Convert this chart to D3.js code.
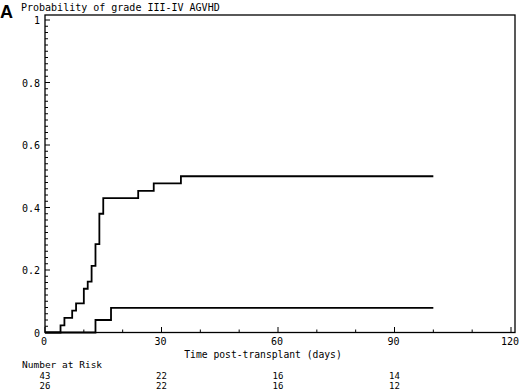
<!DOCTYPE html>
<html><head><meta charset="utf-8">
<script src="https://cdn.jsdelivr.net/npm/d3@7"></script>
<style>body{margin:0;background:#fff}svg{display:block}text{font-family:"DejaVu Sans Mono",monospace;fill:#000}</style>
</head><body><svg id="c" width="520" height="392"></svg>
<script>
const title = "Probability of grade III-IV AGVHD";
const xLabel = "Time post-transplant (days)";
const panel = "A";
const group1Days = [0, 4, 5, 7, 8, 10, 11, 12, 13, 14, 15, 24, 28, 35, 100];
const group1Prob = [0, 0.023, 0.047, 0.07, 0.093, 0.14, 0.163, 0.213, 0.283, 0.38, 0.43, 0.453, 0.477, 0.5, 0.5];
const group2Days = [0, 13, 17, 100];
const group2Prob = [0, 0.04, 0.079, 0.079];
const xTicks = [0, 30, 60, 90, 120];
const yTicks = [0, 0.2, 0.4, 0.6, 0.8, 1];
const yTickLabels = ["0", "0.2", "0.4", "0.6", "0.8", "1"];
const riskTimes = [0, 30, 60, 90];
const riskGroup1 = [43, 22, 16, 14];
const riskGroup2 = [26, 22, 16, 12];

const svg = d3.select("#c");
const x = d3.scaleLinear().domain([0, 120]).range([45, 511]);
const y = d3.scaleLinear().domain([0, 1]).range([332.5, 20]);

// frame
svg.append("rect").attr("x", 45).attr("y", 15).attr("width", 470).attr("height", 317.5)
  .attr("fill", "none").attr("stroke", "#000").attr("stroke-width", 1.3);

// minor ticks
const yMinor = d3.range(0, 1.0001, 0.02);
svg.append("g").selectAll("line").data(yMinor).join("line")
  .attr("x1", 45).attr("x2", d => Math.abs(d*5 - Math.round(d*5)) < 1e-6 ? 50 : 48)
  .attr("y1", d => y(d)).attr("y2", d => y(d)).attr("stroke", "#000").attr("stroke-width", 1);
const xMinor = d3.range(0, 121, 10);
svg.append("g").selectAll("line").data(xMinor).join("line")
  .attr("x1", d => x(d)).attr("x2", d => x(d))
  .attr("y1", 332.5).attr("y2", d => d % 30 === 0 ? 327 : 329.5).attr("stroke", "#000").attr("stroke-width", 1);

// tick labels
svg.append("g").selectAll("text").data(yTicks).join("text")
  .attr("x", 40).attr("y", d => y(d) + 4).attr("text-anchor", "end")
  .attr("font-size", 10).text((d, i) => yTickLabels[i]);
svg.append("g").selectAll("text").data(xTicks).join("text")
  .attr("x", d => x(d) - 1).attr("y", 345).attr("text-anchor", "middle")
  .attr("font-size", 10).text(d => d);

// curves
const line = d3.line().x(d => x(d[0])).y(d => y(d[1])).curve(d3.curveStepAfter);
[[group1Days, group1Prob], [group2Days, group2Prob]].forEach(([t, p]) => {
  svg.append("path").datum(t.map((d, i) => [d, p[i]])).attr("d", line)
    .attr("fill", "none").attr("stroke", "#000").attr("stroke-width", 1.8);
});

// titles
svg.append("text").attr("x", 0).attr("y", 18)
  .style("font-family", "Liberation Sans, Arial, sans-serif").attr("font-weight", "bold").attr("font-size", 18).text(panel);
svg.append("text").attr("x", 21).attr("y", 11).attr("font-size", 10).text(title);
svg.append("text").attr("x", 263).attr("y", 358).attr("text-anchor", "middle").attr("font-size", 9.7).text(xLabel);
svg.append("text").attr("x", 22).attr("y", 368).attr("font-size", 9.5).text("Number at Risk");

svg.append("g").selectAll("text").data(riskTimes).join("text")
  .attr("x", d => x(d)).attr("y", 378.5).attr("text-anchor", "middle").attr("font-size", 9)
  .text((d, i) => riskGroup1[i]);
svg.append("g").selectAll("text").data(riskTimes).join("text")
  .attr("x", d => x(d)).attr("y", 388.5).attr("text-anchor", "middle").attr("font-size", 9)
  .text((d, i) => riskGroup2[i]);
</script></body></html>
